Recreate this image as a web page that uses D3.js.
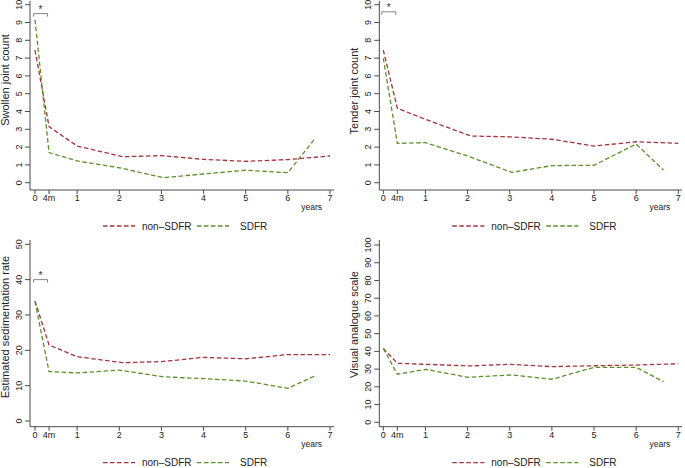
<!DOCTYPE html>
<html>
<head>
<meta charset="utf-8">
<script src="https://cdn.jsdelivr.net/npm/d3@7"></script>
<style>
  body { margin: 0; background: #fff; }
  svg { font-family: "Liberation Sans", Arial, sans-serif; }
</style>
</head>
<body>
<div id="chart"></div>
<script>
var svgWidth = 685;
var svgHeight = 468;

// time points (years); 4m = 4 months
var yearsNon = [0, 1 / 3, 1, 2.08, 3, 4, 5, 6, 7];
var yearsSdfr = [0, 1 / 3, 1, 2, 3.05, 4, 5, 6, 6.65];
var xTickValues = [0, 1 / 3, 1, 2, 3, 4, 5, 6, 7];
var xTickLabels = ["0", "4m", "1", "2", "3", "4", "5", "6", "7"];
var seriesNames = ["non\u2013SDFR", "SDFR"];

// swollen joint count
var swollenNon = [7.45, 3.15, 2.06, 1.46, 1.52, 1.31, 1.2, 1.3, 1.5];
var swollenSdfr = [9.15, 1.69, 1.22, 0.84, 0.28, 0.49, 0.7, 0.56, 2.5];
// tender joint count
var tenderNon = [7.45, 4.18, 3.56, 2.62, 2.58, 2.44, 2.06, 2.3, 2.21];
var tenderSdfr = [6.99, 2.21, 2.25, 1.5, 0.58, 0.96, 0.98, 2.17, 0.71];
// estimated sedimentation rate
var esrNon = [34.0, 21.5, 18.2, 16.5, 16.8, 18.0, 17.6, 18.8, 18.8];
var esrSdfr = [33.8, 14.0, 13.6, 14.4, 12.5, 12.0, 11.3, 9.25, 12.8];
// visual analogue scale
var vasNon = [41.7, 33.3, 32.7, 31.8, 32.7, 31.4, 31.9, 32.3, 33.0];
var vasSdfr = [41.7, 27.1, 29.9, 25.4, 26.7, 24.3, 31.0, 31.0, 22.9];

var colorNon = "#a3343d";
var colorSdfr = "#5e8f2b";
var axisColor = "#4a4a4a";

var svg = d3.select("#chart")
    .append("svg")
    .attr("width", svgWidth)
    .attr("height", svgHeight);

var panels = [
    { left: 30, x0: 35, x7: 330, xEnd: 334, yTop: 1, base: 190, y0: 182.7, yMax: 4.7,
      domain: [0, 10], ticks: d3.range(0, 11, 1), title: "Swollen joint count", titleY: 80,
      non: swollenNon, sdfr: swollenSdfr, star: 9.5 },
    { left: 379.3, x0: 383.3, x7: 678.3, xEnd: 682, yTop: 1, base: 190, y0: 182.7, yMax: 4.7,
      domain: [0, 10], ticks: d3.range(0, 11, 1), title: "Tender joint count", titleY: 91,
      non: tenderNon, sdfr: tenderSdfr, star: 9.6 },
    { left: 30, x0: 35, x7: 330, xEnd: 334, yTop: 240, base: 426.7, y0: 421, yMax: 244.3,
      domain: [0, 50], ticks: d3.range(0, 51, 10), title: "Estimated sedimentation rate", titleY: 327,
      non: esrNon, sdfr: esrSdfr, star: 40 },
    { left: 379.3, x0: 383.3, x7: 678.3, xEnd: 682, yTop: 240, base: 426.7, y0: 422.3, yMax: 245,
      domain: [0, 100], ticks: d3.range(0, 101, 10), title: "Visual analogue scale", titleY: 324.5,
      non: vasNon, sdfr: vasSdfr, star: null }
];

panels.forEach(function (p) {
    var g = svg.append("g");

    var xScale = d3.scaleLinear().domain([0, 7]).range([p.x0, p.x7]);
    var yScale = d3.scaleLinear().domain(p.domain).range([p.y0, p.yMax]);

    // axis lines
    g.append("line")
        .attr("x1", p.left).attr("x2", p.left)
        .attr("y1", p.yTop).attr("y2", p.base)
        .attr("stroke", axisColor).attr("stroke-width", 1);
    g.append("line")
        .attr("x1", p.left).attr("x2", p.xEnd)
        .attr("y1", p.base).attr("y2", p.base)
        .attr("stroke", axisColor).attr("stroke-width", 1);

    // y ticks (rotated labels)
    var yt = g.selectAll(".yt").data(p.ticks).enter().append("g")
        .attr("transform", d => `translate(${p.left}, ${yScale(d)})`);
    yt.append("line").attr("x1", -5).attr("x2", 0)
        .attr("stroke", axisColor);
    yt.append("text")
        .attr("transform", "translate(-8, 0) rotate(-90)")
        .attr("text-anchor", "middle")
        .attr("font-size", "9px")
        .attr("fill", "#222")
        .text(d => d);

    // x ticks
    var xt = g.selectAll(".xt").data(xTickValues).enter().append("g")
        .attr("transform", d => `translate(${xScale(d)}, ${p.base})`);
    xt.append("line").attr("y1", 0).attr("y2", 4)
        .attr("stroke", axisColor);
    xt.append("text")
        .attr("y", 11)
        .attr("text-anchor", "middle")
        .attr("font-size", "9px")
        .attr("fill", "#222")
        .text((d, i) => xTickLabels[i]);

    g.append("text")
        .attr("x", xScale(7) - 8)
        .attr("y", p.base + 20)
        .attr("text-anchor", "end")
        .attr("font-size", "8.5px")
        .attr("fill", "#222")
        .text("years");

    // y title
    g.append("text")
        .attr("transform", `translate(${p.left - 21}, ${p.titleY}) rotate(-90)`)
        .attr("text-anchor", "middle")
        .attr("font-size", "11px")
        .attr("fill", "#222")
        .text(p.title);

    // lines
    var line = d3.line()
        .x(d => xScale(d[0]))
        .y(d => yScale(d[1]));

    g.append("path")
        .datum(d3.zip(yearsNon, p.non))
        .attr("d", line)
        .attr("fill", "none")
        .attr("stroke", colorNon)
        .attr("stroke-width", 1.3)
        .attr("stroke-dasharray", "4.5,2.5");

    g.append("path")
        .datum(d3.zip(yearsSdfr, p.sdfr))
        .attr("d", line)
        .attr("fill", "none")
        .attr("stroke", colorSdfr)
        .attr("stroke-width", 1.3)
        .attr("stroke-dasharray", "4.5,2.5");

    // significance bracket
    if (p.star !== null) {
        var by = yScale(p.star);
        var bx1 = xScale(0) - 1.5, bx2 = xScale(1 / 3) - 1.5;
        g.append("path")
            .attr("d", `M${bx1},${by + 3}V${by}H${bx2}V${by + 3}`)
            .attr("fill", "none")
            .attr("stroke", "#777")
            .attr("stroke-width", 0.9);
        g.append("text")
            .attr("x", (bx1 + bx2) / 2)
            .attr("y", by - 1)
            .attr("text-anchor", "middle")
            .attr("font-size", "10px")
            .attr("fill", "#333")
            .text("*");
    }

    // legend
    var ly = p.base + 36;
    var lx = p.left + 73;
    var leg = g.append("g").attr("transform", `translate(${lx}, ${ly})`);
    [[0, 39, colorNon, seriesNames[0]], [94, 43, colorSdfr, seriesNames[1]]].forEach(function (e) {
        leg.append("line")
            .attr("x1", e[0]).attr("x2", e[0] + 32)
            .attr("y1", 0).attr("y2", 0)
            .attr("stroke", e[2])
            .attr("stroke-width", 1.3)
            .attr("stroke-dasharray", "4.5,2.5");
        leg.append("text")
            .attr("x", e[0] + e[1])
            .attr("y", 3.5)
            .attr("font-size", "10px")
            .attr("fill", "#222")
            .text(e[3]);
    });
});
</script>
</body>
</html>
